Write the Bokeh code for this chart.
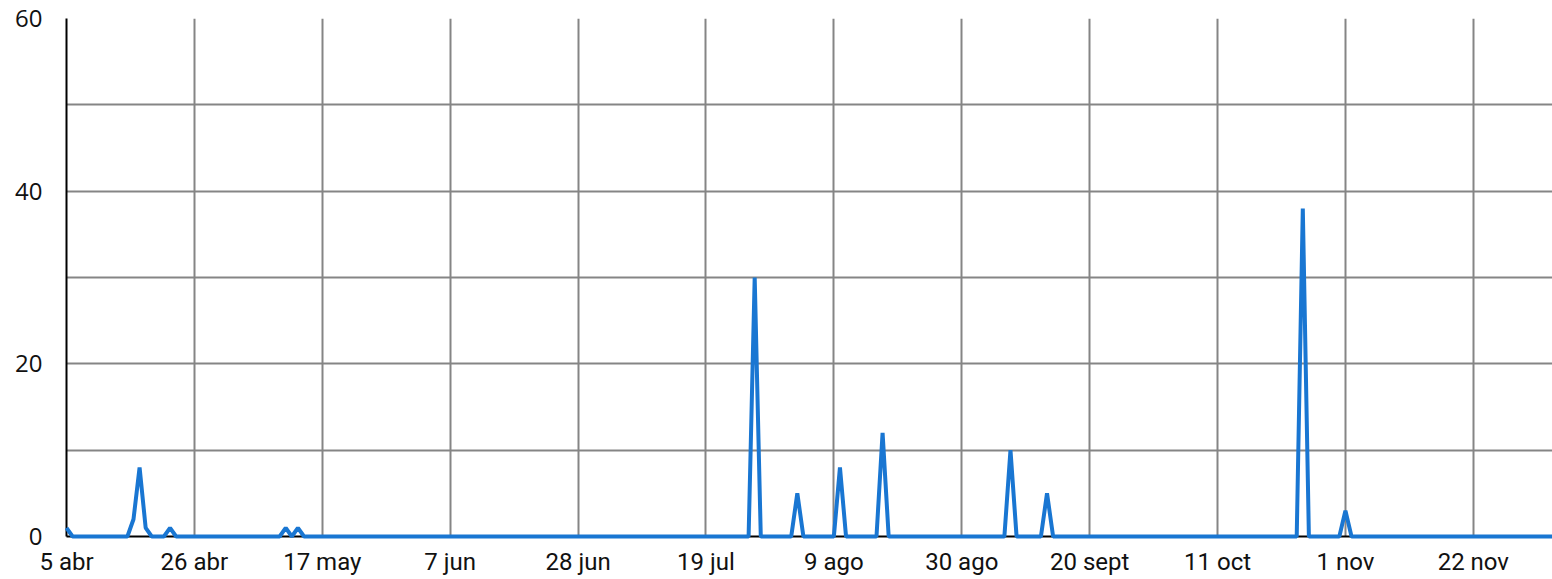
from datetime import date, timedelta

from bokeh.plotting import figure
from bokeh.models import FixedTicker, ColumnDataSource, Range1d
from bokeh.embed import file_html
from bokeh.resources import INLINE

# ---- data ----
start_date = "2021-04-05"
end_date = "2021-12-05"
# days with a non-zero count (all other days are 0)
event_dates = ["2021-04-05", "2021-04-16", "2021-04-17", "2021-04-18", "2021-04-22",
               "2021-05-11", "2021-05-13", "2021-07-27", "2021-08-03", "2021-08-10",
               "2021-08-17", "2021-09-07", "2021-09-13", "2021-10-25", "2021-11-01"]
event_values = [1, 2, 8, 1, 1,
                1, 1, 30, 5, 8,
                12, 10, 5, 38, 3]
tick_dates = ["2021-04-05", "2021-04-26", "2021-05-17", "2021-06-07", "2021-06-28",
              "2021-07-19", "2021-08-09", "2021-08-30", "2021-09-20", "2021-10-11",
              "2021-11-01", "2021-11-22"]
tick_labels = ["5 abr", "26 abr", "17 may", "7 jun", "28 jun", "19 jul",
               "9 ago", "30 ago", "20 sept", "11 oct", "1 nov", "22 nov"]
y_ticks = [0, 20, 40, 60]
y_minor = [10, 30, 50]

# ---- build daily series ----
d0 = date.fromisoformat(start_date)
d1 = date.fromisoformat(end_date)
n = (d1 - d0).days
ev = {date.fromisoformat(d): v for d, v in zip(event_dates, event_values)}
xs, ys = [], []
for i in range(n + 1):
    d = d0 + timedelta(days=i)
    xs.append(i)
    ys.append(ev.get(d, 0))
src = ColumnDataSource(dict(x=xs, y=ys))

tick_pos = [(date.fromisoformat(t) - d0).days for t in tick_dates]

p = figure(frame_width=1486, frame_height=518, output_backend="svg",
           toolbar_location=None, x_range=Range1d(0, n), y_range=Range1d(0, 60),
           min_border_left=66, min_border_top=18, min_border_right=0, min_border_bottom=0)
p.outline_line_color = None

p.line("x", "y", source=src, line_color="#1976D2", line_width=4)

gray = "#858585"
# x axis
p.xaxis.ticker = FixedTicker(ticks=tick_pos)
p.xaxis.major_label_overrides = {tp: lab for tp, lab in zip(tick_pos, tick_labels)}
p.xaxis.major_tick_line_color = None
p.xaxis.minor_tick_line_color = None
p.xaxis.axis_line_color = "black"
p.xaxis.axis_line_width = 2
p.xaxis.major_label_text_font = "Roboto"
p.xaxis.major_label_text_font_size = "24px"
p.xaxis.major_label_text_color = "#111111"
p.xaxis.major_label_standoff = 5

# y axis
p.yaxis.ticker = FixedTicker(ticks=y_ticks, minor_ticks=y_minor)
p.yaxis.major_tick_line_color = None
p.yaxis.minor_tick_line_color = None
p.yaxis.axis_line_color = "black"
p.yaxis.axis_line_width = 2
p.yaxis.major_label_text_font = "Open Sans"
p.yaxis.major_label_text_font_size = "24px"
p.yaxis.major_label_text_color = "#111111"
p.yaxis.major_label_standoff = 18

p.xgrid.grid_line_color = gray
p.xgrid.grid_line_width = 2
p.ygrid.grid_line_color = gray
p.ygrid.grid_line_width = 2
p.ygrid.minor_grid_line_color = gray
p.ygrid.minor_grid_line_width = 2

p.renderers[0].level = "overlay"

open("out.html", "w").write(file_html(p, INLINE))
